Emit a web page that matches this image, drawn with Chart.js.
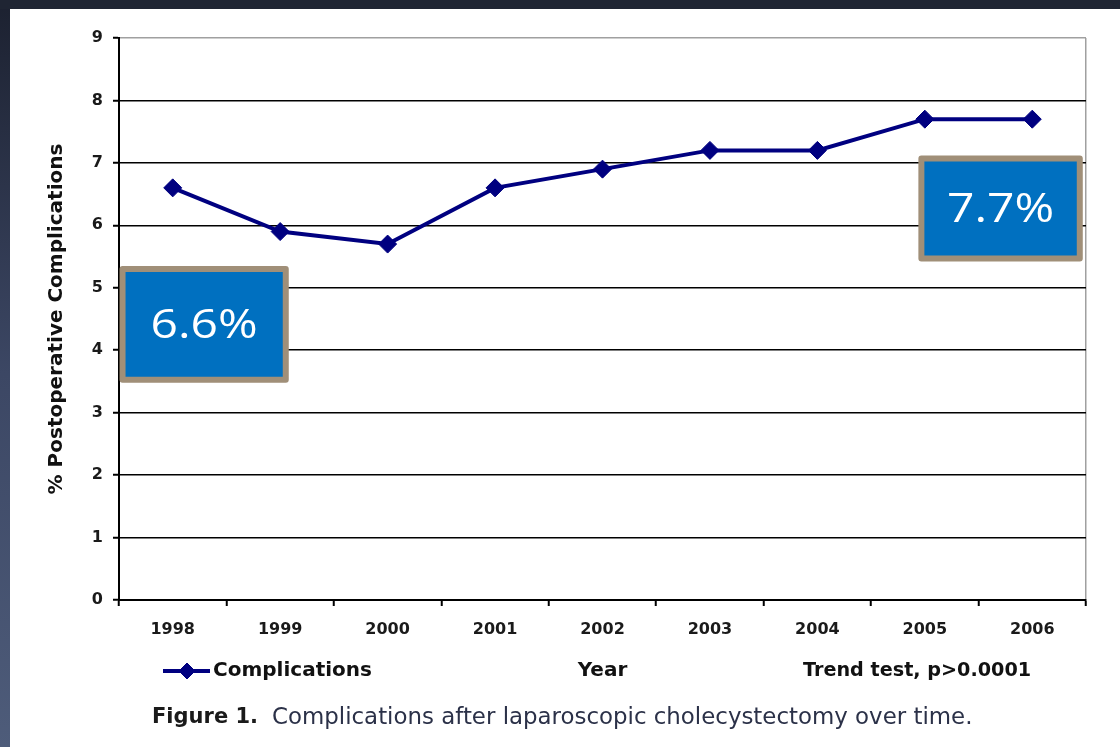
<!DOCTYPE html>
<html>
<head>
<meta charset="utf-8">
<title>Complications after laparoscopic cholecystectomy</title>
<script src="https://cdn.jsdelivr.net/npm/chart.js@4.4.1/dist/chart.umd.min.js"></script>
<style>
  html, body { margin: 0; padding: 0; background: #1f2533; }
  #wrap { position: relative; width: 1120px; height: 747px; }
</style>
</head>
<body>
<div id="wrap"><canvas id="chart"></canvas></div>
<script>
// Data
const years = ['1998', '1999', '2000', '2001', '2002', '2003', '2004', '2005', '2006'];
const complications = [6.6, 5.9, 5.7, 6.6, 6.9, 7.2, 7.2, 7.7, 7.7];
const yMin = 0;
const yMax = 9;

// Texts
const seriesLabel = 'Complications';
const xTitle = 'Year';
const yTitle = '% Postoperative Complications';
const trendText = 'Trend test, p>0.0001';
const captionBold = 'Figure 1.';
const captionText = 'Complications after laparoscopic cholecystectomy over time.';
const calloutTexts = ['6.6%', '7.7%'];

const navy = '#000080';
const axisFont = { family: 'DejaVu Sans', weight: 'bold', size: 16 };

// callout boxes, in scale units (category index / percent)
const callouts = [
  { text: calloutTexts[0], x0: -0.495, x1: 1.08, yTop: 5.35, yBot: 3.48 },
  { text: calloutTexts[1], x0: 6.94, x1: 8.47, yTop: 7.12, yBot: 5.42 }
];

// Dark slide background + white figure panel
const framePlugin = {
  id: 'frame',
  beforeDraw(chart) {
    const ctx = chart.ctx;
    ctx.save();
    const g = ctx.createLinearGradient(0, 0, 0, chart.height);
    g.addColorStop(0, '#1c2130');
    g.addColorStop(0.5, '#3c4764');
    g.addColorStop(1, '#4e5c7a');
    ctx.fillStyle = g;
    ctx.fillRect(0, 0, chart.width, chart.height);
    ctx.fillStyle = '#1f2533';
    ctx.fillRect(0, 0, chart.width, 9);
    ctx.fillStyle = '#ffffff';
    ctx.fillRect(10, 9, chart.width - 10, chart.height - 9);
    ctx.restore();
  }
};

// Legend row, caption and the two callout boxes
const extrasPlugin = {
  id: 'extras',
  afterDraw(chart) {
    const ctx = chart.ctx;
    const xs = chart.scales.x;
    const ys = chart.scales.y;
    ctx.save();

    // legend entry
    const ly = 671;
    ctx.strokeStyle = navy;
    ctx.fillStyle = navy;
    ctx.lineWidth = 4;
    ctx.beginPath();
    ctx.moveTo(163, ly);
    ctx.lineTo(210, ly);
    ctx.stroke();
    ctx.lineWidth = 1;
    Chart.helpers.drawPoint(ctx, { pointStyle: 'rectRot', radius: 8, borderWidth: 1 }, 187, ly);

    ctx.fillStyle = '#111';
    ctx.textBaseline = 'middle';
    ctx.textAlign = 'left';
    ctx.font = 'bold 20px "DejaVu Sans"';
    ctx.fillText(seriesLabel, 213, ly);
    ctx.font = 'bold 19.2px "DejaVu Sans"';
    ctx.fillText(trendText, 803, ly);

    // caption
    const cy = 718;
    ctx.fillStyle = '#1a1a1a';
    ctx.font = 'bold 21px "DejaVu Sans"';
    ctx.fillText(captionBold, 152, cy);
    ctx.fillStyle = '#2b3148';
    ctx.font = '22.9px "DejaVu Sans"';
    ctx.fillText(captionText, 272, cy);

    // callouts
    callouts.forEach(c => {
      const l = xs.getPixelForValue(c.x0);
      const r = xs.getPixelForValue(c.x1);
      const t = ys.getPixelForValue(c.yTop);
      const b = ys.getPixelForValue(c.yBot);
      ctx.fillStyle = '#0070c0';
      ctx.strokeStyle = '#a08f78';
      ctx.lineWidth = 6;
      ctx.lineJoin = 'round';
      ctx.beginPath();
      ctx.rect(l + 3, t + 3, r - l - 6, b - t - 6);
      ctx.fill();
      ctx.stroke();
      ctx.save();
      ctx.translate((l + r) / 2, (t + b) / 2 + 2);
      ctx.scale(1.2, 1);
      ctx.fillStyle = '#ffffff';
      ctx.font = '40px "Open Sans"';
      ctx.textAlign = 'center';
      ctx.textBaseline = 'middle';
      ctx.fillText(c.text, 0, 0);
      ctx.restore();
    });

    ctx.restore();
  }
};

const ctx = document.getElementById('chart').getContext('2d');
const chart = new Chart(ctx, {
  type: 'line',
  data: {
    labels: years,
    datasets: [{
      label: seriesLabel,
      data: complications,
      borderColor: navy,
      backgroundColor: navy,
      borderWidth: 4,
      tension: 0,
      fill: false,
      pointStyle: 'rectRot',
      pointRadius: 9,
      pointBorderWidth: 1,
      pointBackgroundColor: navy,
      pointBorderColor: navy
    }]
  },
  options: {
    responsive: true,
    maintainAspectRatio: false,
    animation: false,
    layout: { padding: { top: 38, right: 34, left: 0, bottom: 0 } },
    plugins: {
      legend: { display: false },
      tooltip: { enabled: false }
    },
    scales: {
      x: {
        offset: true,
        grid: {
          offset: true,
          drawOnChartArea: true,
          // only the closing line on the right is visible (grey frame)
          color: c => (c.type === 'tick' ? 'rgba(0,0,0,0)' : '#a0a0a0'),
          lineWidth: 1.5,
          tickColor: '#000',
          tickWidth: 2,
          tickLength: 6
        },
        border: { display: true, color: '#000', width: 2 },
        ticks: { font: axisFont, color: '#1a1a1a', padding: 14, maxRotation: 0 },
        title: {
          display: true,
          text: xTitle,
          font: { family: 'DejaVu Sans', weight: 'bold', size: 20 },
          color: '#111',
          padding: { top: 0, bottom: 64 }
        },
        afterFit(s) { s.height = 147; }
      },
      y: {
        min: yMin,
        max: yMax,
        ticks: { stepSize: 1, font: axisFont, color: '#1a1a1a', padding: 10 },
        grid: {
          color: c => (c.tick && c.tick.value === yMax ? '#a0a0a0' : '#000'),
          lineWidth: 1.5,
          tickColor: '#000',
          tickWidth: 2,
          tickLength: 6
        },
        border: { display: true, color: '#000', width: 2 },
        title: {
          display: true,
          text: yTitle,
          font: { family: 'DejaVu Sans', weight: 'bold', size: 20 },
          color: '#111',
          padding: { top: 45, bottom: 0 }
        },
        afterFit(s) { s.width = 119; }
      }
    }
  },
  plugins: [framePlugin, extrasPlugin]
});
</script>
</body>
</html>
